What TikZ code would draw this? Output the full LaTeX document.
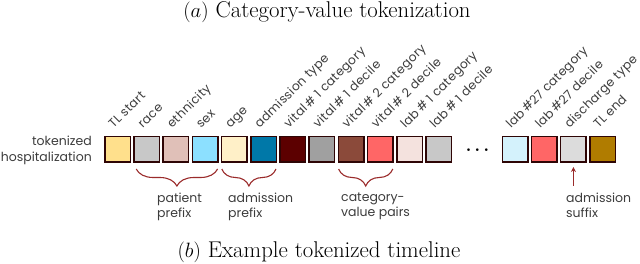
\documentclass[tikz,border=0pt]{standalone}
\usepackage{fontspec}
\setsansfont{Poppins}
\usetikzlibrary{decorations.pathreplacing,arrows.meta}
\definecolor{bord}{HTML}{2E0505}
\definecolor{lbl}{HTML}{3C3C3C}
\definecolor{brc}{HTML}{9A2B2B}
\definecolor{c1}{HTML}{FFE08C}
\definecolor{c2}{HTML}{C8C8C8}
\definecolor{c3}{HTML}{E0C0B8}
\definecolor{c4}{HTML}{8CE0FF}
\definecolor{c5}{HTML}{FFF0C8}
\definecolor{c6}{HTML}{0078A8}
\definecolor{c7}{HTML}{5C0000}
\definecolor{c8}{HTML}{A0A0A0}
\definecolor{c9}{HTML}{8B4A3A}
\definecolor{c10}{HTML}{FF6666}
\definecolor{c11}{HTML}{F4E2DE}
\definecolor{c12}{HTML}{C8C8C8}
\definecolor{c13}{HTML}{D4F2FC}
\definecolor{c14}{HTML}{FF6666}
\definecolor{c15}{HTML}{DCDCDC}
\definecolor{c16}{HTML}{B07C00}
\tikzset{
  tok/.style={draw=bord, line width=1.5pt, minimum size=25.5pt, inner sep=0pt},
  toklabel/.style={rotate=45, anchor=base west, inner sep=0pt, text=lbl,
    font=\sffamily\fontsize{12.3}{15}\selectfont\addfontfeatures{LetterSpace=3}},
  sidelabel/.style={inner sep=0pt, text=lbl, font=\sffamily\fontsize{12.5}{16}\selectfont},
  brlabel/.style={inner sep=0pt, text=lbl, anchor=north west, align=left,
    font=\sffamily\fontsize{12.5}{14.5}\selectfont},
  bracestyle/.style={draw=brc, line width=1.1pt,
    decorate, decoration={brace, mirror, amplitude=17pt}},
  caption/.style={inner sep=0pt, anchor=base, font=\fontsize{22.8}{26}\selectfont}
}
\begin{document}
\begin{tikzpicture}[x=1pt,y=-1pt]
\useasboundingbox (0,0) rectangle (640,264);
% captions
\node[caption] (capa) at (327,18) {$(a)$ Category-value tokenization};
\node[caption] (capb) at (319,258) {$(b)$ Example tokenized timeline};
% side label
\node[sidelabel, anchor=east, align=right] (side) at (92,150) {tokenized\\hospitalization};
% tokens
\foreach \i/\x/\t in {1/117.5/TL start, 2/146.7/race, 3/175.9/ethnicity, 4/205.1/sex,
  5/234.3/age, 6/263.5/admission type, 7/292.7/vital\,\#\ 1 category, 8/321.9/vital\,\#\ 1 decile,
  9/351.1/vital\,\#\ 2 category, 10/380.3/vital\,\#\ 2 decile, 11/409.5/lab\,\#\ 1 category,
  12/438.7/lab\,\#\ 1 decile, 13/515/lab\,\#27 category, 14/544.2/lab\,\#27 decile,
  15/573.4/discharge type, 16/602.6/TL end}{
  \node[tok, fill=c\i] (b\i) at (\x,149.5) {};
  \node[toklabel] (l\i) at ([xshift=-4pt, yshift=7pt]b\i.north) {\t};
}
\node[inner sep=0pt, font=\fontsize{18}{18}\selectfont\boldmath] (dots) at (477.5,150) {$\cdots$};
% braces
\draw[bracestyle] ([xshift=3pt, yshift=-6pt]b2.south west) -- ([xshift=-1pt, yshift=-6pt]b4.south east);
\draw[bracestyle] ([xshift=1pt, yshift=-6pt]b5.south west) -- ([xshift=-1pt, yshift=-6pt]b6.south east);
\draw[bracestyle] ([xshift=1pt, yshift=-6pt]b9.south west) -- ([xshift=-1pt, yshift=-6pt]b10.south east);
\node[brlabel] (pp) at (157,193) {patient\\prefix};
\node[brlabel] (ap) at (228,193) {admission\\prefix};
\node[brlabel] (cv) at (341,193) {category-\\value pairs};
\node[brlabel] (as) at (566,193) {admission\\suffix};
% arrow
\coordinate (atail) at (573.4,186);
\draw[brc, line width=1.1pt, -{Stealth[length=5pt,width=5pt]}] (atail) -- ([yshift=-4pt]b15.south);
\end{tikzpicture}
\end{document}
